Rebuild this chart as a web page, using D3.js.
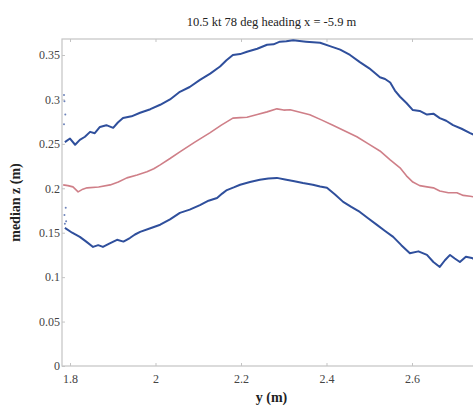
<!DOCTYPE html>
<html>
<head>
<meta charset="utf-8">
<script src="https://cdn.jsdelivr.net/npm/d3@7"></script>
<style>
  body { margin: 0; background: #fff; }
  svg text { font-family: "Liberation Serif", "DejaVu Serif", serif; }
</style>
</head>
<body>
<div id="chart"></div>
<script>
// values
const xTicks = [1.8, 2.0, 2.2, 2.4, 2.6];
const xTickLabels = ["1.8", "2", "2.2", "2.4", "2.6"];
const yTicks = [0, 0.05, 0.1, 0.15, 0.2, 0.25, 0.3, 0.35];
const yTickLabels = ["0", "0.05", "0.1", "0.15", "0.2", "0.25", "0.3", "0.35"];

const upperY = [1.788, 1.800, 1.812, 1.823, 1.835, 1.847, 1.858, 1.870, 1.885, 1.901, 1.912, 1.924, 1.944, 1.964, 1.988, 2.011, 2.034, 2.057, 2.080, 2.104, 2.128, 2.151, 2.166, 2.181, 2.198, 2.214, 2.238, 2.261, 2.276, 2.291, 2.306, 2.322, 2.352, 2.385, 2.408, 2.432, 2.455, 2.478, 2.500, 2.525, 2.537, 2.549, 2.560, 2.572, 2.587, 2.602, 2.618, 2.635, 2.650, 2.665, 2.680, 2.696, 2.716, 2.736, 2.750];
const upperZ = [0.252, 0.256, 0.249, 0.2545, 0.258, 0.2635, 0.262, 0.269, 0.271, 0.268, 0.274, 0.279, 0.281, 0.285, 0.289, 0.294, 0.300, 0.3086, 0.314, 0.322, 0.329, 0.337, 0.344, 0.350, 0.351, 0.3536, 0.357, 0.3615, 0.362, 0.365, 0.3655, 0.3665, 0.365, 0.3637, 0.360, 0.356, 0.350, 0.342, 0.335, 0.325, 0.323, 0.319, 0.310, 0.303, 0.296, 0.288, 0.287, 0.283, 0.284, 0.279, 0.276, 0.271, 0.267, 0.262, 0.259];

const medianY = [1.784, 1.795, 1.807, 1.819, 1.830, 1.840, 1.867, 1.894, 1.913, 1.933, 1.957, 1.980, 1.996, 2.011, 2.034, 2.057, 2.092, 2.127, 2.154, 2.181, 2.198, 2.214, 2.238, 2.261, 2.284, 2.300, 2.315, 2.338, 2.361, 2.388, 2.415, 2.443, 2.471, 2.498, 2.525, 2.549, 2.572, 2.587, 2.602, 2.618, 2.635, 2.650, 2.665, 2.685, 2.705, 2.720, 2.736, 2.750];
const medianZ = [0.2038, 0.203, 0.2016, 0.196, 0.199, 0.2005, 0.2015, 0.2038, 0.207, 0.2117, 0.215, 0.2185, 0.222, 0.2264, 0.2335, 0.241, 0.252, 0.2624, 0.271, 0.279, 0.2795, 0.280, 0.283, 0.286, 0.2894, 0.288, 0.2883, 0.2855, 0.2827, 0.277, 0.271, 0.2645, 0.258, 0.250, 0.242, 0.232, 0.223, 0.214, 0.207, 0.203, 0.2016, 0.2005, 0.197, 0.195, 0.195, 0.192, 0.191, 0.190];

const lowerY = [1.788, 1.805, 1.823, 1.838, 1.854, 1.866, 1.877, 1.893, 1.910, 1.925, 1.940, 1.952, 1.964, 1.988, 2.011, 2.034, 2.057, 2.080, 2.104, 2.124, 2.144, 2.156, 2.167, 2.183, 2.198, 2.221, 2.244, 2.264, 2.284, 2.303, 2.322, 2.345, 2.368, 2.385, 2.401, 2.420, 2.439, 2.458, 2.478, 2.498, 2.518, 2.537, 2.556, 2.575, 2.595, 2.615, 2.635, 2.650, 2.665, 2.677, 2.689, 2.700, 2.712, 2.726, 2.740, 2.750];
const lowerZ = [0.1554, 0.150, 0.1453, 0.140, 0.134, 0.136, 0.134, 0.138, 0.142, 0.140, 0.144, 0.148, 0.151, 0.155, 0.159, 0.165, 0.1723, 0.176, 0.181, 0.186, 0.189, 0.194, 0.198, 0.201, 0.204, 0.207, 0.2095, 0.211, 0.2117, 0.210, 0.2083, 0.206, 0.204, 0.202, 0.2005, 0.193, 0.1847, 0.179, 0.1734, 0.166, 0.1588, 0.152, 0.1453, 0.136, 0.127, 0.129, 0.125, 0.117, 0.1115, 0.119, 0.125, 0.121, 0.117, 0.123, 0.1216, 0.119];

// stray samples at the left edge
const strayY = [1.786, 1.787, 1.789, 1.786, 1.790, 1.787, 1.788, 1.791];
const strayZ = [0.305, 0.298, 0.283, 0.272, 0.178, 0.170, 0.160, 0.163];

const svgWidth = 473;
const svgHeight = 407;
const plot = { left: 62, right: 481, top: 39, bottom: 366 };

const svg = d3.select('#chart')
    .append('svg')
    .attr('width', svgWidth)
    .attr('height', svgHeight);

const xScale = d3.scaleLinear()
    .domain([1.7813, 2.7614])
    .range([plot.left, plot.right]);

const yScale = d3.scaleLinear()
    .domain([0, 0.368])
    .range([plot.bottom, plot.top]);

const axisColor = '#c4c4c4';

// box
svg.append('rect')
    .attr('x', plot.left)
    .attr('y', plot.top)
    .attr('width', plot.right - plot.left)
    .attr('height', plot.bottom - plot.top)
    .attr('fill', 'none')
    .attr('stroke', axisColor)
    .attr('stroke-width', 1.2);

// bottom axis
const xAxis = svg.append('g')
    .attr('transform', `translate(0, ${plot.bottom})`)
    .call(d3.axisBottom(xScale)
        .tickValues(xTicks)
        .tickSize(-3)
        .tickPadding(8)
        .tickFormat((d, i) => xTickLabels[i]))
    .attr('font-family', null)
    .attr('font-size', 12);
xAxis.select('.domain').remove();
xAxis.selectAll('line').attr('stroke', axisColor);
xAxis.selectAll('text').attr('fill', '#444');

// top ticks
const xTop = svg.append('g')
    .attr('transform', `translate(0, ${plot.top})`)
    .call(d3.axisTop(xScale).tickValues(xTicks).tickSize(-3).tickFormat(''));
xTop.select('.domain').remove();
xTop.selectAll('line').attr('stroke', axisColor);

// left axis
const yAxis = svg.append('g')
    .attr('transform', `translate(${plot.left}, 0)`)
    .call(d3.axisLeft(yScale)
        .tickValues(yTicks)
        .tickSize(-3)
        .tickPadding(2)
        .tickFormat((d, i) => yTickLabels[i]))
    .attr('font-family', null)
    .attr('font-size', 12);
yAxis.select('.domain').remove();
yAxis.selectAll('line').attr('stroke', axisColor);
yAxis.selectAll('text').attr('fill', '#444');

const line = d3.line()
    .x(d => xScale(d[0]))
    .y(d => yScale(d[1]));

const series = [
    { x: upperY, z: upperZ, color: '#2f4f9c', width: 2 },
    { x: medianY, z: medianZ, color: '#cf7f88', width: 1.6 },
    { x: lowerY, z: lowerZ, color: '#2f4f9c', width: 2 }
];

series.forEach(s => {
    svg.append('path')
        .datum(s.x.map((v, i) => [v, s.z[i]]))
        .attr('d', line)
        .attr('fill', 'none')
        .attr('stroke', s.color)
        .attr('stroke-width', s.width)
        .attr('stroke-linejoin', 'round');
});

svg.selectAll('.stray')
    .data(strayY.map((v, i) => [v, strayZ[i]]))
    .enter().append('circle')
    .attr('class', 'stray')
    .attr('cx', d => xScale(d[0]))
    .attr('cy', d => yScale(d[1]))
    .attr('r', 1)
    .attr('fill', '#6d83bb');

// title and labels
svg.append('text')
    .attr('x', (plot.left + plot.right) / 2)
    .attr('y', 26)
    .attr('text-anchor', 'middle')
    .style('font-size', '12.5px')
    .attr('fill', '#222')
    .text('10.5 kt 78 deg heading x = -5.9 m');

svg.append('text')
    .attr('x', (plot.left + plot.right) / 2)
    .attr('y', 402)
    .attr('text-anchor', 'middle')
    .style('font-size', '14px')
    .style('font-weight', 'bold')
    .attr('fill', '#222')
    .text('y (m)');

svg.append('text')
    .attr('transform', `translate(20, ${(plot.top + plot.bottom) / 2}) rotate(-90)`)
    .attr('text-anchor', 'middle')
    .style('font-size', '14px')
    .style('font-weight', 'bold')
    .attr('fill', '#222')
    .text('median z (m)');
</script>
</body>
</html>
